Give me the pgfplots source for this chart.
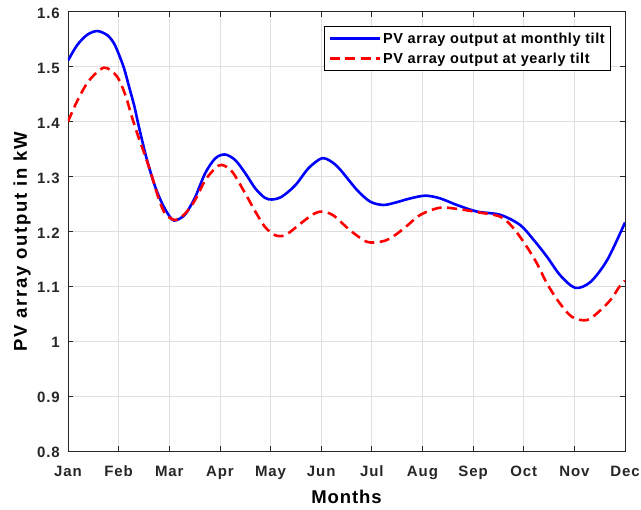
\documentclass[border=0pt]{standalone}
\usepackage{pgfplots}
\pgfplotsset{compat=1.18}
\usepackage{fontspec}
\setmainfont{Liberation Sans}

\definecolor{axgray}{RGB}{38,38,38}
\definecolor{gridgray}{RGB}{223,223,223}

% Monthly-tilt output, month index vs kW
\pgfplotstableread{
m     p
1.00  1.511
1.18  1.539
1.38  1.558
1.58  1.5648
1.78  1.557
1.91  1.542
2.01  1.521
2.11  1.496
2.21  1.462
2.31  1.428
2.40  1.3905
2.56  1.330
2.73  1.279
2.89  1.245
3.05  1.222
3.15  1.2206
3.32  1.2315
3.51  1.262
3.71  1.306
3.91  1.333
4.10  1.340
4.30  1.330
4.50  1.306
4.70  1.278
4.89  1.261
5.03  1.258
5.22  1.263
5.49  1.284
5.75  1.315
6.01  1.333
6.20  1.327
6.38  1.312
6.71  1.275
6.97  1.254
7.23  1.248
7.49  1.253
7.76  1.260
8.06  1.265
8.35  1.260
8.68  1.248
9.08  1.236
9.54  1.230
9.93  1.2115
10.20 1.184
10.46 1.1537
10.72 1.120
11.02 1.097
11.32 1.108
11.65 1.148
12.00 1.216
}\monthlytilt

% Yearly-tilt output, month index vs kW
\pgfplotstableread{
m     p
1.00  1.400
1.18  1.437
1.41  1.474
1.71  1.498
1.96  1.483
2.13  1.449
2.26  1.409
2.39  1.372
2.53  1.336
2.66  1.2995
2.79  1.260
2.92  1.232
3.12  1.2206
3.32  1.233
3.51  1.257
3.71  1.293
3.91  1.315
4.04  1.321
4.24  1.309
4.50  1.269
4.70  1.236
4.89  1.208
5.09  1.193
5.29  1.193
5.55  1.211
5.82  1.230
6.01  1.236
6.24  1.229
6.57  1.202
6.90  1.181
7.17  1.181
7.36  1.187
7.63  1.205
7.96  1.230
8.35  1.243
8.75  1.240
9.08  1.235
9.54  1.2266
9.80  1.2055
10.06 1.172
10.26 1.1417
10.46 1.105
10.69 1.0718
10.95 1.0444
11.25 1.0384
11.52 1.0567
11.74 1.078
11.88 1.098
12.00 1.110
}\yearlytilt

\begin{document}
\begin{tikzpicture}
\begin{axis}[
  scale only axis,
  width=557pt, height=439.3pt,
  xmin=1, xmax=12, ymin=0.8, ymax=1.6,
  xtick={1,2,3,4,5,6,7,8,9,10,11,12},
  xticklabels={Jan,Feb,Mar,Apr,May,Jun,Jul,Aug,Sep,Oct,Nov,Dec},
  ytick={0.8,0.9,1,1.1,1.2,1.3,1.4,1.5,1.6},
  /pgf/number format/assume math mode=true,
  ticklabel style={font=\bfseries\fontsize{15}{16}\selectfont\addfontfeatures{LetterSpace=6}, text=axgray},
  xticklabel style={anchor=base, inner sep=0pt, yshift=-25.5pt},
  yticklabel style={anchor=east, inner sep=0pt, xshift=-8pt, yshift=-1.5pt},
  grid=major,
  major grid style={gridgray, line width=0.7pt},
  tick align=inside,
  major tick length=5pt,
  tick style={axgray, line width=0.8pt},
  axis line style={axgray, line width=0.8pt},
  xlabel={Months},
  ylabel={PV array output in kW},
  xlabel style={font=\bfseries\fontsize{18.5}{20}\selectfont\addfontfeatures{LetterSpace=5}, text=black,
    at={(axis description cs:0.5,0)}, anchor=center, yshift=-46pt},
  ylabel style={font=\bfseries\fontsize{18.5}{20}\selectfont\addfontfeatures{LetterSpace=9}, text=black,
    at={(axis description cs:-0.0826,0.476)}, anchor=center},
  legend style={at={(rel axis cs:0.975,0.967)}, anchor=north east,
    draw=black, line width=0.7pt, fill=white,
    font=\bfseries\fontsize{14.5}{16}\selectfont\addfontfeatures{LetterSpace=4},
    inner xsep=4pt, inner ysep=4pt,
    row sep=4pt},
  legend cell align=left,
  legend image code/.code={\draw[#1] (0pt,0pt) -- (50pt,0pt);},
]
\addplot[blue, line width=2.6pt, smooth] table[x=m, y=p] {\monthlytilt};
\addlegendentry{PV array output at monthly tilt}
\addplot[red, line width=2.6pt, smooth, dash pattern=on 10pt off 5.5pt] table[x=m, y=p] {\yearlytilt};
\addlegendentry{PV array output at yearly tilt}
\end{axis}
\pgfresetboundingbox
\useasboundingbox (-68pt,-59pt) rectangle (573pt,451pt);
\end{tikzpicture}
\end{document}
